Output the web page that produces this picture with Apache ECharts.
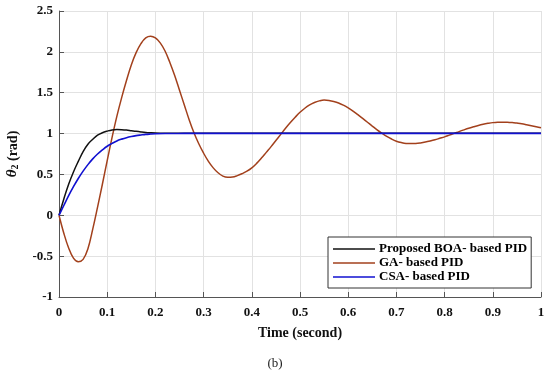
<!DOCTYPE html>
<html>
<head>
<meta charset="utf-8">
<script src="https://cdn.jsdelivr.net/npm/echarts@6/dist/echarts.min.js"></script>
<style>html,body{margin:0;padding:0;background:#fff}#c{width:550px;height:391px}</style>
</head>
<body>
<div id="c"></div>
<script>
const seriesNames = ['Proposed BOA- based PID', 'GA- based PID', 'CSA- based PID'];
const xTicks = ['0','0.1','0.2','0.3','0.4','0.5','0.6','0.7','0.8','0.9','1'];
const yTicks = ['-1','-0.5','0','0.5','1','1.5','2','2.5'];

const boaT = [0,0.01,0.02,0.03,0.04,0.05,0.06,0.07,0.08,0.09,0.10,0.11,0.12,0.13,0.14,0.15,0.16,0.17,0.18,0.19,0.20,0.22,0.24,0.26,0.28,0.30,0.40,0.50,0.60,0.70,0.80,0.90,1.00];
const boaV = [0,0.20,0.38,0.53,0.66,0.78,0.87,0.93,0.98,1.01,1.03,1.045,1.05,1.048,1.043,1.035,1.027,1.02,1.014,1.01,1.007,1.004,1.003,1.003,1.003,1.003,1.004,1.004,1.004,1.004,1.004,1.004,1.004];

const csaT = [0,0.01,0.02,0.03,0.04,0.05,0.06,0.07,0.08,0.09,0.10,0.11,0.12,0.13,0.14,0.15,0.16,0.17,0.18,0.19,0.20,0.22,0.24,0.26,0.28,0.30,0.40,0.50,0.60,0.70,0.80,0.90,1.00];
const csaV = [0,0.12,0.24,0.35,0.45,0.54,0.62,0.69,0.75,0.80,0.845,0.88,0.91,0.932,0.95,0.964,0.975,0.983,0.99,0.994,0.997,1.0,1.001,1.002,1.002,1.002,1.003,1.003,1.003,1.003,1.003,1.003,1.003];

const gaT = [0,0.01,0.02,0.03,0.04,0.05,0.06,0.07,0.08,0.09,
  0.10,0.11,0.12,0.13,0.14,0.15,0.16,0.17,0.18,0.19,
  0.20,0.21,0.22,0.23,0.24,0.25,0.26,0.27,0.28,0.29,
  0.30,0.31,0.32,0.33,0.34,0.35,0.36,0.37,0.38,0.39,
  0.40,0.41,0.42,0.43,0.44,0.45,0.46,0.47,0.48,0.49,
  0.50,0.51,0.52,0.53,0.54,0.55,0.56,0.57,0.58,0.59,
  0.60,0.61,0.62,0.63,0.64,0.65,0.66,0.67,0.68,0.69,
  0.70,0.71,0.72,0.73,0.74,0.75,0.76,0.77,0.78,0.79,
  0.80,0.81,0.82,0.83,0.84,0.85,0.86,0.87,0.88,0.89,
  0.90,0.91,0.92,0.93,0.94,0.95,0.96,0.97,0.98,0.99,1.00];
const gaV = [0,-0.22,-0.40,-0.525,-0.57,-0.54,-0.41,-0.17,0.10,0.38,
  0.67,0.95,1.21,1.44,1.65,1.84,1.99,2.10,2.17,2.19,
  2.17,2.11,2.01,1.87,1.71,1.53,1.35,1.17,1.01,0.875,
  0.76,0.66,0.58,0.52,0.48,0.465,0.468,0.485,0.51,0.54,
  0.58,0.635,0.70,0.77,0.84,0.915,0.99,1.065,1.135,1.20,
  1.26,1.31,1.35,1.38,1.40,1.41,1.405,1.393,1.375,1.348,
  1.315,1.276,1.232,1.186,1.139,1.092,1.046,1.004,0.965,0.933,
  0.907,0.89,0.879,0.877,0.879,0.886,0.896,0.909,0.924,0.942,
  0.96,0.981,1.002,1.024,1.045,1.065,1.083,1.10,1.114,1.125,
  1.134,1.139,1.14,1.139,1.135,1.128,1.12,1.109,1.097,1.084,1.07];

function pairs(t, v){ return t.map((x,i)=>[x, v[i]]); }

const font = 'Liberation Serif';
const chart = echarts.init(document.getElementById('c'), null, {renderer:'canvas'});
chart.setOption({
  animation:false,
  backgroundColor:'#fff',
  title:{text:'(b)', left:'center', top:352, textStyle:{fontFamily:font, fontWeight:'normal', fontSize:13, color:'#222'}},
  grid:{left:59, right:9, top:11, bottom:94, containLabel:false, outerBoundsMode:'none'},
  legend:{
    data:seriesNames.map(n=>({name:n, icon:'rect'})), orient:'vertical', left:328, top:237,
    backgroundColor:'#fff', borderColor:'#333', borderWidth:1, borderRadius:0,
    padding:[5,4,4,5], itemGap:0, itemWidth:42, itemHeight:1.6,
    textStyle:{fontFamily:font, fontWeight:'bold', fontSize:13, color:'#000', lineHeight:14, padding:[0,0,0,-1]}
  },
  xAxis:{
    type:'value', min:0, max:1, interval:0.1,
    name:'Time (second)', nameLocation:'middle', nameGap:29,
    nameTextStyle:{fontFamily:font, fontWeight:'bold', fontSize:14, color:'#111'},
    axisLine:{show:true, onZero:false, lineStyle:{color:'#555', width:1}},
    axisTick:{show:true, inside:true, length:5, lineStyle:{color:'#555'}},
    axisLabel:{fontFamily:font, fontWeight:'bold', fontSize:13, color:'#111', margin:9,
      formatter:(v)=>{const i=Math.round(v*10); return xTicks[i];}},
    splitLine:{show:true, lineStyle:{color:'#e2e2e2', width:1}}
  },
  yAxis:{
    type:'value', min:-1, max:2.5, interval:0.5,
    name:'{th|θ}{sub|2}{n| (rad)}', nameLocation:'middle', nameGap:39, nameRotate:90,
    nameTextStyle:{
      rich:{
        th:{fontFamily:font, fontWeight:'bold', fontStyle:'italic', fontSize:15, color:'#111', verticalAlign:'bottom', lineHeight:17},
        sub:{fontFamily:font, fontWeight:'bold', fontSize:10, color:'#111', verticalAlign:'bottom', lineHeight:10},
        n:{fontFamily:font, fontWeight:'bold', fontSize:14, color:'#111', verticalAlign:'bottom', lineHeight:17}
      }
    },
    axisLine:{show:true, onZero:false, lineStyle:{color:'#555', width:1}},
    axisTick:{show:true, inside:true, length:5, lineStyle:{color:'#555'}},
    axisLabel:{fontFamily:font, fontWeight:'bold', fontSize:13, color:'#111', margin:6,
      formatter:(v)=>{const i=Math.round((v+1)*2); return yTicks[i];}},
    splitLine:{show:true, lineStyle:{color:'#e2e2e2', width:1}}
  },
  series:[
    {name:seriesNames[1], type:'line', data:pairs(gaT, gaV), symbol:'none', smooth:0.4, z:2,
      lineStyle:{color:'#a2401c', width:1.5}, itemStyle:{color:'#a2401c'}},
    {name:seriesNames[0], type:'line', data:pairs(boaT, boaV), symbol:'none', smooth:0.4, z:3,
      lineStyle:{color:'#111', width:1.5}, itemStyle:{color:'#111'}},
    {name:seriesNames[2], type:'line', data:pairs(csaT, csaV), symbol:'none', smooth:0.4, z:4,
      lineStyle:{color:'#1010d0', width:1.6}, itemStyle:{color:'#1010d0'}}
  ]
});
</script>
</body>
</html>
